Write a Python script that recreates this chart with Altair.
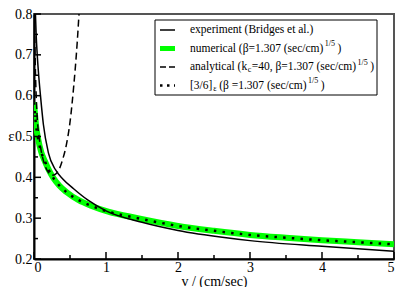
import altair as alt
import pandas as pd

# ---- data ----
exp_v = [0.02, 0.03, 0.045, 0.065, 0.09, 0.13, 0.2, 0.3, 0.4, 0.55, 0.75, 1.0, 1.5, 2.0, 2.67, 3.0, 4.0, 5.0]
exp_e = [0.80, 0.75, 0.70, 0.65, 0.60, 0.53, 0.46, 0.418, 0.396, 0.372, 0.344, 0.318, 0.29, 0.27, 0.252, 0.245, 0.231, 0.219]

num_v = [0.0, 0.03, 0.06, 0.1, 0.15, 0.2, 0.27, 0.35, 0.45, 0.62, 0.8, 1.03, 1.44, 2.0, 2.5, 3.0, 3.5, 4.0, 4.5, 5.0]
num_e = [0.584, 0.525, 0.492, 0.462, 0.44, 0.42, 0.398, 0.38, 0.364, 0.344, 0.33, 0.316, 0.30, 0.281, 0.269, 0.259, 0.252, 0.246, 0.241, 0.236]

ana_v = [0.005, 0.02, 0.04, 0.07, 0.1, 0.15, 0.2, 0.25, 0.3, 0.35, 0.4, 0.45, 0.5, 0.55, 0.6, 0.625]
ana_e = [0.80, 0.66, 0.56, 0.50, 0.465, 0.43, 0.412, 0.405, 0.408, 0.42, 0.445, 0.48, 0.535, 0.62, 0.73, 0.80]

pade_v = num_v
pade_e = num_e

x_major = [0, 1, 2, 3, 4, 5]
x_minor = [0.5, 1.5, 2.5, 3.5, 4.5]
y_major = [0.2, 0.3, 0.4, 0.5, 0.6, 0.7, 0.8]
y_minor = [0.25, 0.35, 0.45, 0.55, 0.65, 0.75]

legend_labels = [
    "experiment (Bridges et al.)",
    "numerical (β=1.307 (sec/cm)",
    "analytical (k",
    "=40, β=1.307 (sec/cm)",
    "[3/6]",
    "(β =1.307 (sec/cm)",
]
sup_text = "1/5"
close_text = ")"
sub_c = "c"
sub_eps = "ε"

LP, TP, RP, BP = 26, 6, 3, 28
W, H = 360, 245
OX, OY = 8 + LP, 8 + TP  # page origin of plot area
SERIF = "Liberation Serif"
FS, SS = 11.5, 8  # legend font sizes

# approximate Times/Liberation Serif advance widths (em) for laying out legend pieces
CW = {" ": .25, "(": .333, ")": .333, "[": .333, "]": .333, "/": .278, ".": .25, ",": .25, "=": .564,
      "β": .5, "ε": .44, "B": .667}
for ch in "0123456789bdgknpuxy":
    CW[ch] = .5
for ch in "acez":
    CW[ch] = .444
for ch in "ilt":
    CW[ch] = .278
CW.update({"m": .778, "r": .333, "s": .389})

def tw(s, size):
    return sum(CW.get(ch, .5) for ch in s) * size

xs = alt.Scale(domain=[0, 5], nice=False, zero=False)
ys = alt.Scale(domain=[0.2, 0.8], nice=False, zero=False)

def df(v, e):
    return pd.DataFrame({"v": v, "e": e, "i": range(len(v))})

base_x = alt.X("v:Q", scale=xs,
               axis=alt.Axis(values=x_major, format="d", title="v / (cm/sec)", grid=False,
                             tickSize=0, labelPadding=1, labelFont=SERIF, labelFontSize=14,
                             labelColor="black", domainColor="black", domainWidth=2,
                             titleFont=SERIF, titleFontSize=14, titleFontWeight="normal",
                             titleColor="black", titlePadding=0))
base_y = alt.Y("e:Q", scale=ys,
               axis=alt.Axis(values=y_major, format=".1f", title="ε", grid=False,
                             tickSize=0, labelPadding=2, labelFont=SERIF, labelFontSize=14,
                             labelColor="black", domainColor="black", domainWidth=2,
                             titleFont=SERIF, titleFontSize=15, titleFontWeight="normal",
                             titleColor="black", titleAngle=0, titleX=11 - OX, titleY=135 - OY,
                             titleBaseline="middle", titleAlign="center"))

green = alt.Chart(df(num_v, num_e)).mark_line(color="#00ff00", strokeWidth=6, interpolate="monotone", clip=True).encode(
    x=base_x, y=base_y, order="i:Q")
expl = alt.Chart(df(exp_v, exp_e)).mark_line(color="black", strokeWidth=1.5, interpolate="monotone", clip=True).encode(
    x=alt.X("v:Q", scale=xs), y=alt.Y("e:Q", scale=ys), order="i:Q")
ana = alt.Chart(df(ana_v, ana_e)).mark_line(color="black", strokeWidth=1.5, strokeDash=[7, 4], interpolate="monotone", clip=True).encode(
    x=alt.X("v:Q", scale=xs), y=alt.Y("e:Q", scale=ys), order="i:Q")
pade = alt.Chart(df(pade_v, pade_e)).mark_line(color="black", strokeWidth=2.5, strokeDash=[2.5, 6.2], interpolate="monotone", clip=True).encode(
    x=alt.X("v:Q", scale=xs), y=alt.Y("e:Q", scale=ys), order="i:Q")

# inward ticks
def yticks(vals, ln):
    return alt.Chart(pd.DataFrame({"t": vals})).mark_rule(color="black", strokeWidth=1.5).encode(
        y=alt.Y("t:Q", scale=ys), x=alt.value(0), x2=alt.value(ln))

def xticks(vals, ln):
    return alt.Chart(pd.DataFrame({"t": vals})).mark_rule(color="black", strokeWidth=1.5).encode(
        x=alt.X("t:Q", scale=xs), y=alt.value(H), y2=alt.value(H - ln))

ticks = [yticks(y_major, 7), yticks(y_minor, 4), xticks(x_major, 7), xticks(x_minor, 4)]

# legend (positions given in page pixels)
one = pd.DataFrame({"a": [0]})
box = alt.Chart(one).mark_rect(fill="white", stroke="black", strokeWidth=1).encode(
    x=alt.value(155 - OX), x2=alt.value(377 - OX), y=alt.value(20 - OY), y2=alt.value(95 - OY))

rows_y = [30, 48.5, 67, 85.5]

def sample(row, **kw):
    return alt.Chart(one).mark_rule(**kw).encode(
        x=alt.value(160 - OX), x2=alt.value(175 - OX),
        y=alt.value(rows_y[row] - OY), y2=alt.value(rows_y[row] - OY))

samples = [
    sample(0, color="black", strokeWidth=1.5),
    sample(1, color="#00ff00", strokeWidth=5),
    sample(2, color="black", strokeWidth=1.5, strokeDash=[6, 3]),
    sample(3, color="black", strokeWidth=2.5, strokeDash=[2.5, 4.5]),
]

def txt(s, x, y, size=FS):
    return alt.Chart(pd.DataFrame({"s": [s]})).mark_text(
        font=SERIF, fontSize=size, color="black", align="left", baseline="middle").encode(
        text="s:N", x=alt.value(x - OX), y=alt.value(y - OY))

def row(pieces, y, x0=190):
    # pieces: list of (text, kind) where kind is "n", "sup" or "sub"
    out = []
    x = x0
    for s, kind, gap in pieces:
        x += gap
        if kind == "n":
            out.append(txt(s, x, y))
            x += tw(s, FS)
        elif kind == "sup":
            out.append(txt(s, x, y - 4.5, SS))
            x += tw(s, SS)
        else:
            out.append(txt(s, x, y + 3, SS))
            x += tw(s, SS)
    return out

texts = []
texts += row([(legend_labels[0], "n", 0)], rows_y[0])
texts += row([(legend_labels[1], "n", 0), (sup_text, "sup", 1.5), (close_text, "n", 2.5)], rows_y[1])
texts += row([(legend_labels[2], "n", 0), (sub_c, "sub", 0.5), (legend_labels[3], "n", 0.5),
              (sup_text, "sup", 1.5), (close_text, "n", 2.5)], rows_y[2])
texts += row([(legend_labels[4], "n", 0), (sub_eps, "sub", 0.8), (legend_labels[5], "n", 2.5),
              (sup_text, "sup", 1.5), (close_text, "n", 2.5)], rows_y[3])

chart = alt.layer(green, expl, ana, pade, *ticks, box, *samples, *texts).properties(
    width=W, height=H,
    autosize=alt.AutoSizeParams(type="none"),
    padding={"left": LP, "top": TP, "right": RP, "bottom": BP},
).configure_view(stroke="#555555", strokeWidth=2)

chart.save("out.html", embed_options={"renderer": "svg", "actions": False})
